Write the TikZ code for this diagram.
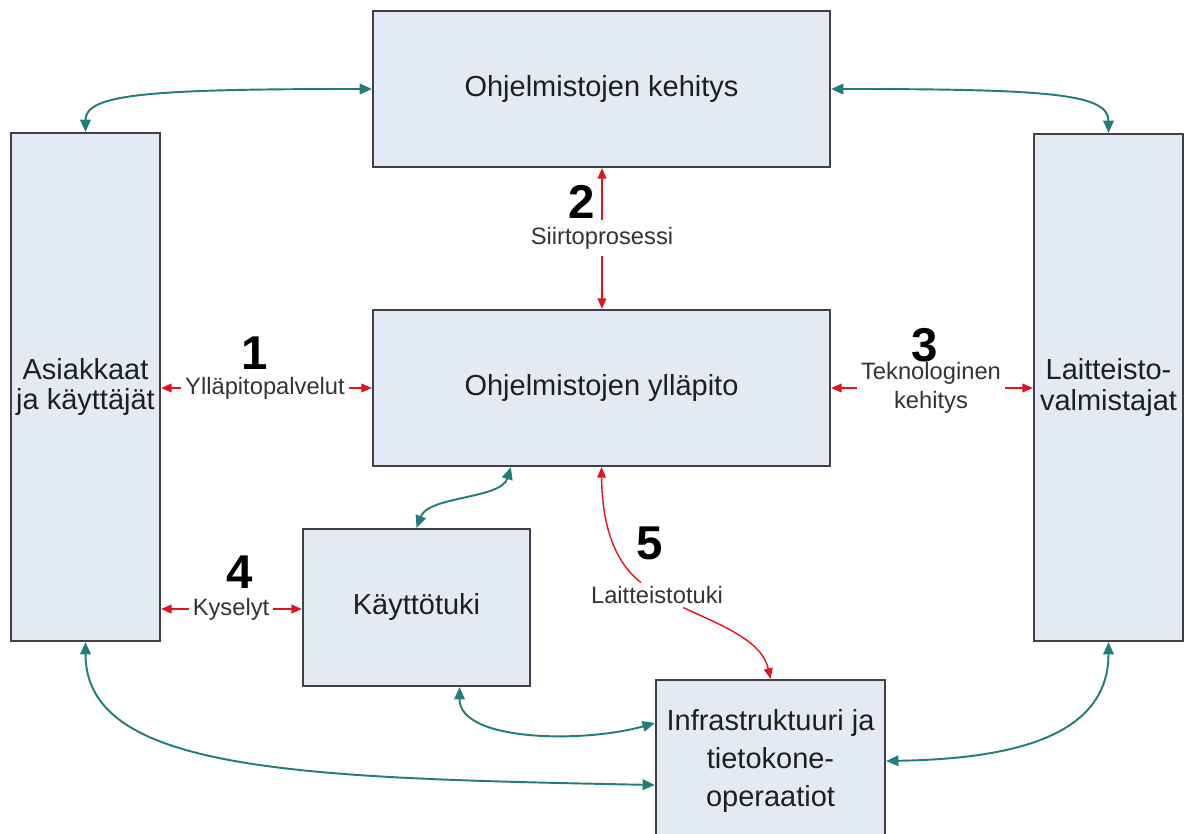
\documentclass[tikz,border=0pt]{standalone}
\usepackage{fontspec}
\setmainfont{Liberation Sans}
\usetikzlibrary{arrows.meta,calc}

\definecolor{lohkotausta}{HTML}{E4EAF4}
\definecolor{lohkoreuna}{HTML}{404048}
\definecolor{vihrea}{HTML}{1F7D7A}
\definecolor{punainen}{HTML}{E3121B}

\tikzset{
	lohko/.style={draw=lohkoreuna,line width=1.3pt,fill=lohkotausta,inner sep=0pt,align=center,text=black!88,font=\fontsize{16.5}{19}\selectfont},
	yhteys/.style={vihrea,line width=1.1pt,{Triangle[length=7pt,width=6pt]}-{Triangle[length=7pt,width=6pt]}},
	palvelu/.style={punainen,line width=0.8pt,-{Triangle[length=6pt,width=5pt]}},
	nimi/.style={inner sep=2pt,align=center,text=black!80,font=\fontsize{13.5}{16.5}\selectfont},
	numero/.style={inner sep=0pt,font=\fontsize{27}{30}\selectfont\bfseries}
}

\begin{document}
\begin{tikzpicture}[x=0.02cm,y=-0.02cm]
	\useasboundingbox (0,0) rectangle (1184,834);

	% lohkot
	\node[lohko,minimum width=9.14cm,minimum height=3.12cm] (kehitys) at (601.5,89) {Ohjelmistojen kehitys};
	\node[lohko,minimum width=9.14cm,minimum height=3.12cm] (yllapito) at (601.5,388) {Ohjelmistojen ylläpito};
	\node[lohko,minimum width=2.98cm,minimum height=10.16cm,font=\fontsize{16.5}{17.5}\selectfont] (asiakkaat) at (85.5,387) {Asiakkaat\\ja käyttäjät};
	\node[lohko,minimum width=2.98cm,minimum height=10.14cm,font=\fontsize{16.5}{18}\selectfont] (laitteisto) at (1108.5,387.5) {Laitteisto-\\valmistajat};
	\node[lohko,minimum width=4.54cm,minimum height=3.14cm] (kayttotuki) at (416.5,607.5) {Käyttötuki};
	\node[lohko,minimum width=4.58cm,minimum height=3.24cm,font=\fontsize{16.5}{21.6}\selectfont] (infra) at (770.5,761) {Infrastruktuuri ja\\tietokone-\\operaatiot};

	% vihreat yhteydet
	\draw[yhteys] (asiakkaat.north) .. controls +(0,-38) and +(-223,0) .. (kehitys.west);
	\draw[yhteys] (kehitys.east) .. controls +(220,0) and +(0,-39) .. (laitteisto.north);
	\draw[yhteys] ($(yllapito.south west)+(139,0)$) .. controls +(-10,32) and +(12,-32) .. (kayttotuki.north);
	\draw[yhteys] ($(kayttotuki.south)+(43,0)$) .. controls +(0,55) and +(-70,20) .. ($(infra.west)+(0,-38)$);
	\draw[yhteys] (asiakkaat.south) .. controls +(0,130) and +(-356,-7) .. ($(infra.west)+(0,24)$);
	\draw[yhteys] (infra.east) .. controls +(115,-2) and +(0,99) .. (laitteisto.south);

	% punaiset palvelut
	\node[nimi] (l1) at (265,388) {Ylläpitopalvelut};
	\draw[palvelu] (l1) -- (asiakkaat.east |- l1);
	\draw[palvelu] (l1) -- (yllapito.west |- l1);

	\node[nimi,inner sep=4pt] (l2) at (602,238) {Siirtoprosessi};
	\draw[palvelu] (l2) -- (kehitys.south -| l2);
	\draw[palvelu] (l2) -- (yllapito.north -| l2);

	\node[nimi] (l3) at (931,388) {Teknologinen\\kehitys};
	\draw[palvelu] (l3) -- (yllapito.east |- l3);
	\draw[palvelu] (l3) -- (laitteisto.west |- l3);

	\node[nimi] (l4) at (231,609) {Kyselyt};
	\draw[palvelu] (l4) -- (asiakkaat.east |- l4);
	\draw[palvelu] (l4) -- (kayttotuki.west |- l4);

	\node[nimi] (l5) at (657,595) {Laitteistotuki};
	\draw[palvelu] (l5) .. controls (612,560) and (602,520) .. (yllapito.south);
	\draw[palvelu] (l5) .. controls (720,625) and (762,640) .. (infra.north);

	% numerot
	\node[numero] (n1) at (255,353) {1};
	\node[numero] (n2) at (582,202) {2};
	\node[numero] (n3) at (925,345) {3};
	\node[numero] (n4) at (240,572) {4};
	\node[numero] (n5) at (650,543) {5};
\end{tikzpicture}
\end{document}
